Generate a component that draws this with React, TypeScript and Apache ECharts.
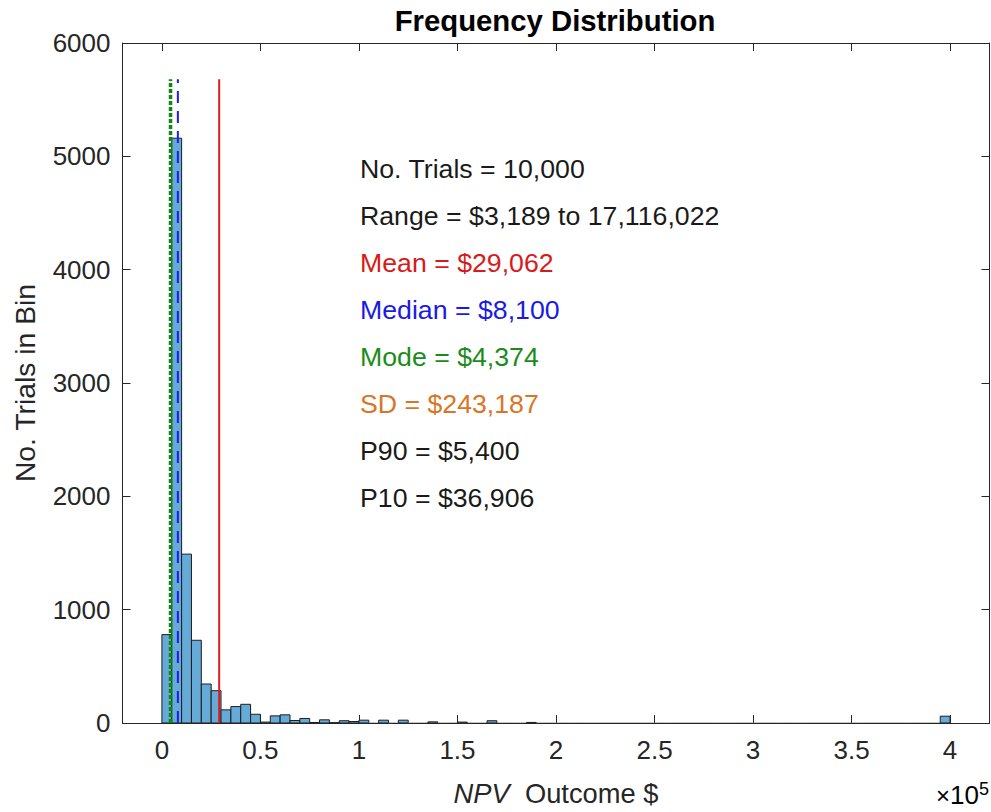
import React, { useEffect, useRef } from "react";
import * as echarts from "echarts";

// ---- data ----
const BIN_WIDTH = 5000;
const binCounts = [
  780, 5160, 1490, 730, 344, 285, 116, 145, 165, 77,
  8, 63, 72, 22, 40, 4, 28, 3, 20, 13,
  25, 0, 25, 0, 25, 0, 0, 10, 0, 0,
  8, 0, 0, 20, 0, 0, 0, 5, 0, 0,
  0, 0, 0, 0, 0, 0, 0, 0, 0, 0,
  0, 0, 0, 0, 0, 0, 0, 0, 0, 0,
  0, 0, 0, 0, 0, 0, 0, 0, 0, 0,
  0, 0, 0, 0, 0, 0, 0, 0, 0, 60,
];
const xTickValues = [0, 50000, 100000, 150000, 200000, 250000, 300000, 350000, 400000];
const meanValue = 29062;
const medianValue = 8100;
const modeValue = 4374;
const refLineTop = 5680;
const statTexts = [
  "No. Trials = 10,000",
  "Range = $3,189 to 17,116,022",
  "Mean = $29,062",
  "Median = $8,100",
  "Mode = $4,374",
  "SD = $243,187",
  "P90 = $5,400",
  "P10 = $36,906",
];
const statColors = ["#1a1a1a", "#1a1a1a", "#D91A1A", "#1A1AE6", "#1A8C1A", "#D97526", "#1a1a1a", "#1a1a1a"];

const FONT = "'Liberation Sans', Arial, Helvetica, sans-serif";
const AX = "#262626";

export default function App() {
  const ref = useRef<HTMLDivElement>(null);
  useEffect(() => {
    const chart = echarts.init(ref.current!, null, { renderer: "svg" });
    const histData = binCounts.map((c, i) => [i * BIN_WIDTH, (i + 1) * BIN_WIDTH, c]);
    const vline = (v: number) => [[v, 0], [v, refLineTop]];
    const xAxisCommon = {
      type: "value",
      min: -20000,
      max: 420000,
      splitLine: { show: false },
      axisLine: { show: true, onZero: false, lineStyle: { color: AX, width: 1 } },
      axisTick: { show: true, inside: true, length: 8, customValues: xTickValues, lineStyle: { color: AX } },
    };
    const yAxisCommon = {
      type: "value",
      min: 0,
      max: 6000,
      interval: 1000,
      splitLine: { show: false },
      axisLine: { show: true, onZero: false, lineStyle: { color: AX, width: 1 } },
      axisTick: { show: true, inside: true, length: 8, lineStyle: { color: AX } },
    };
    chart.setOption({
      animation: false,
      textStyle: { fontFamily: FONT },
      grid: { left: 122.5, top: 43, right: 1.5, bottom: 85.5, containLabel: false },
      xAxis: [
        {
          ...xAxisCommon,
          position: "bottom",
          name: "{i|NPV}  Outcome $",
          nameLocation: "middle",
          nameGap: 57,
          nameTextStyle: {
            fontSize: 27.3,
            color: AX,
            fontFamily: FONT,
            rich: {
              i: { fontSize: 27.3, fontStyle: "italic", color: AX, fontFamily: FONT },
            },
          },
          axisLabel: {
            customValues: xTickValues,
            formatter: (v: number) => String(v / 100000),
            fontSize: 26,
            color: AX,
            margin: 14,
            fontFamily: FONT,
          },
        },
        {
          ...xAxisCommon,
          position: "top",
          axisLabel: { show: false },
        },
      ],
      yAxis: [
        {
          ...yAxisCommon,
          position: "left",
          name: "No. Trials in Bin",
          nameLocation: "middle",
          nameGap: 84,
          nameTextStyle: { fontSize: 28.3, color: AX, fontFamily: FONT },
          axisLabel: {
            fontSize: 26,
            color: AX,
            margin: 12,
            fontFamily: FONT,
            formatter: (v: number) => String(v),
          },
        },
        {
          ...yAxisCommon,
          position: "right",
          axisLabel: { show: false },
        },
      ],
      series: [
        {
          type: "custom",
          xAxisIndex: 0,
          yAxisIndex: 0,
          data: histData,
          encode: { x: [0, 1], y: 2 },
          clip: true,
          renderItem: (params: any, api: any) => {
            const x0 = api.value(0);
            const x1 = api.value(1);
            const c = api.value(2);
            const p0 = api.coord([x0, 0]);
            const p1 = api.coord([x1, c]);
            if (c <= 0) {
              return {
                type: "line",
                shape: { x1: p0[0], y1: p0[1], x2: p1[0], y2: p0[1] },
                style: { stroke: "#8a8a8a", lineWidth: 1 },
              };
            }
            return {
              type: "rect",
              shape: { x: p0[0], y: p1[1], width: p1[0] - p0[0], height: p0[1] - p1[1] },
              style: { fill: "rgb(102,170,215)", stroke: "#1e1e1e", lineWidth: 1 },
            };
          },
        },
        {
          type: "line",
          name: "Mean",
          data: vline(meanValue),
          symbol: "none",
          lineStyle: { color: "#E01E1E", width: 2, type: "solid" },
          z: 5,
        },
        {
          type: "line",
          name: "Median",
          data: vline(medianValue),
          symbol: "none",
          lineStyle: { color: "#1E1EE6", width: 2, type: [12, 8] },
          z: 5,
        },
        {
          type: "line",
          name: "Mode",
          data: vline(modeValue),
          symbol: "none",
          lineStyle: { color: "#0A8A0A", width: 3.5, type: [4, 2] },
          z: 6,
        },
      ],
      graphic: [
        {
          type: "text",
          x: 555,
          y: 20,
          style: {
            text: "Frequency Distribution",
            font: `bold 29.3px ${FONT}`,
            fill: "#000",
            textAlign: "center",
            textVerticalAlign: "middle",
          },
        },
        ...statTexts.map((t, i) => ({
          type: "text",
          x: 360,
          y: 169 + i * 47,
          style: {
            text: t,
            font: `26.7px ${FONT}`,
            fill: statColors[i],
            textAlign: "left",
            textVerticalAlign: "middle",
          },
        })),
        {
          type: "text",
          x: 989,
          y: 795,
          style: {
            text: "{x|×}{a|10}{s|5}",
            textAlign: "right",
            textVerticalAlign: "middle",
            rich: {
              x: { fontSize: 24, fontFamily: FONT, color: "#555" },
              a: { fontSize: 26, fontFamily: FONT, color: AX },
              s: { fontSize: 18, fontFamily: FONT, verticalAlign: "top", color: AX, padding: [0, 0, 12, 0] },
            },
          },
        },
      ],
    });
    return () => chart.dispose();
  }, []);
  return (
    <div
      ref={ref}
      style={{ position: "fixed", left: 0, top: 0, width: 991, height: 812, background: "#fff" }}
    />
  );
}
